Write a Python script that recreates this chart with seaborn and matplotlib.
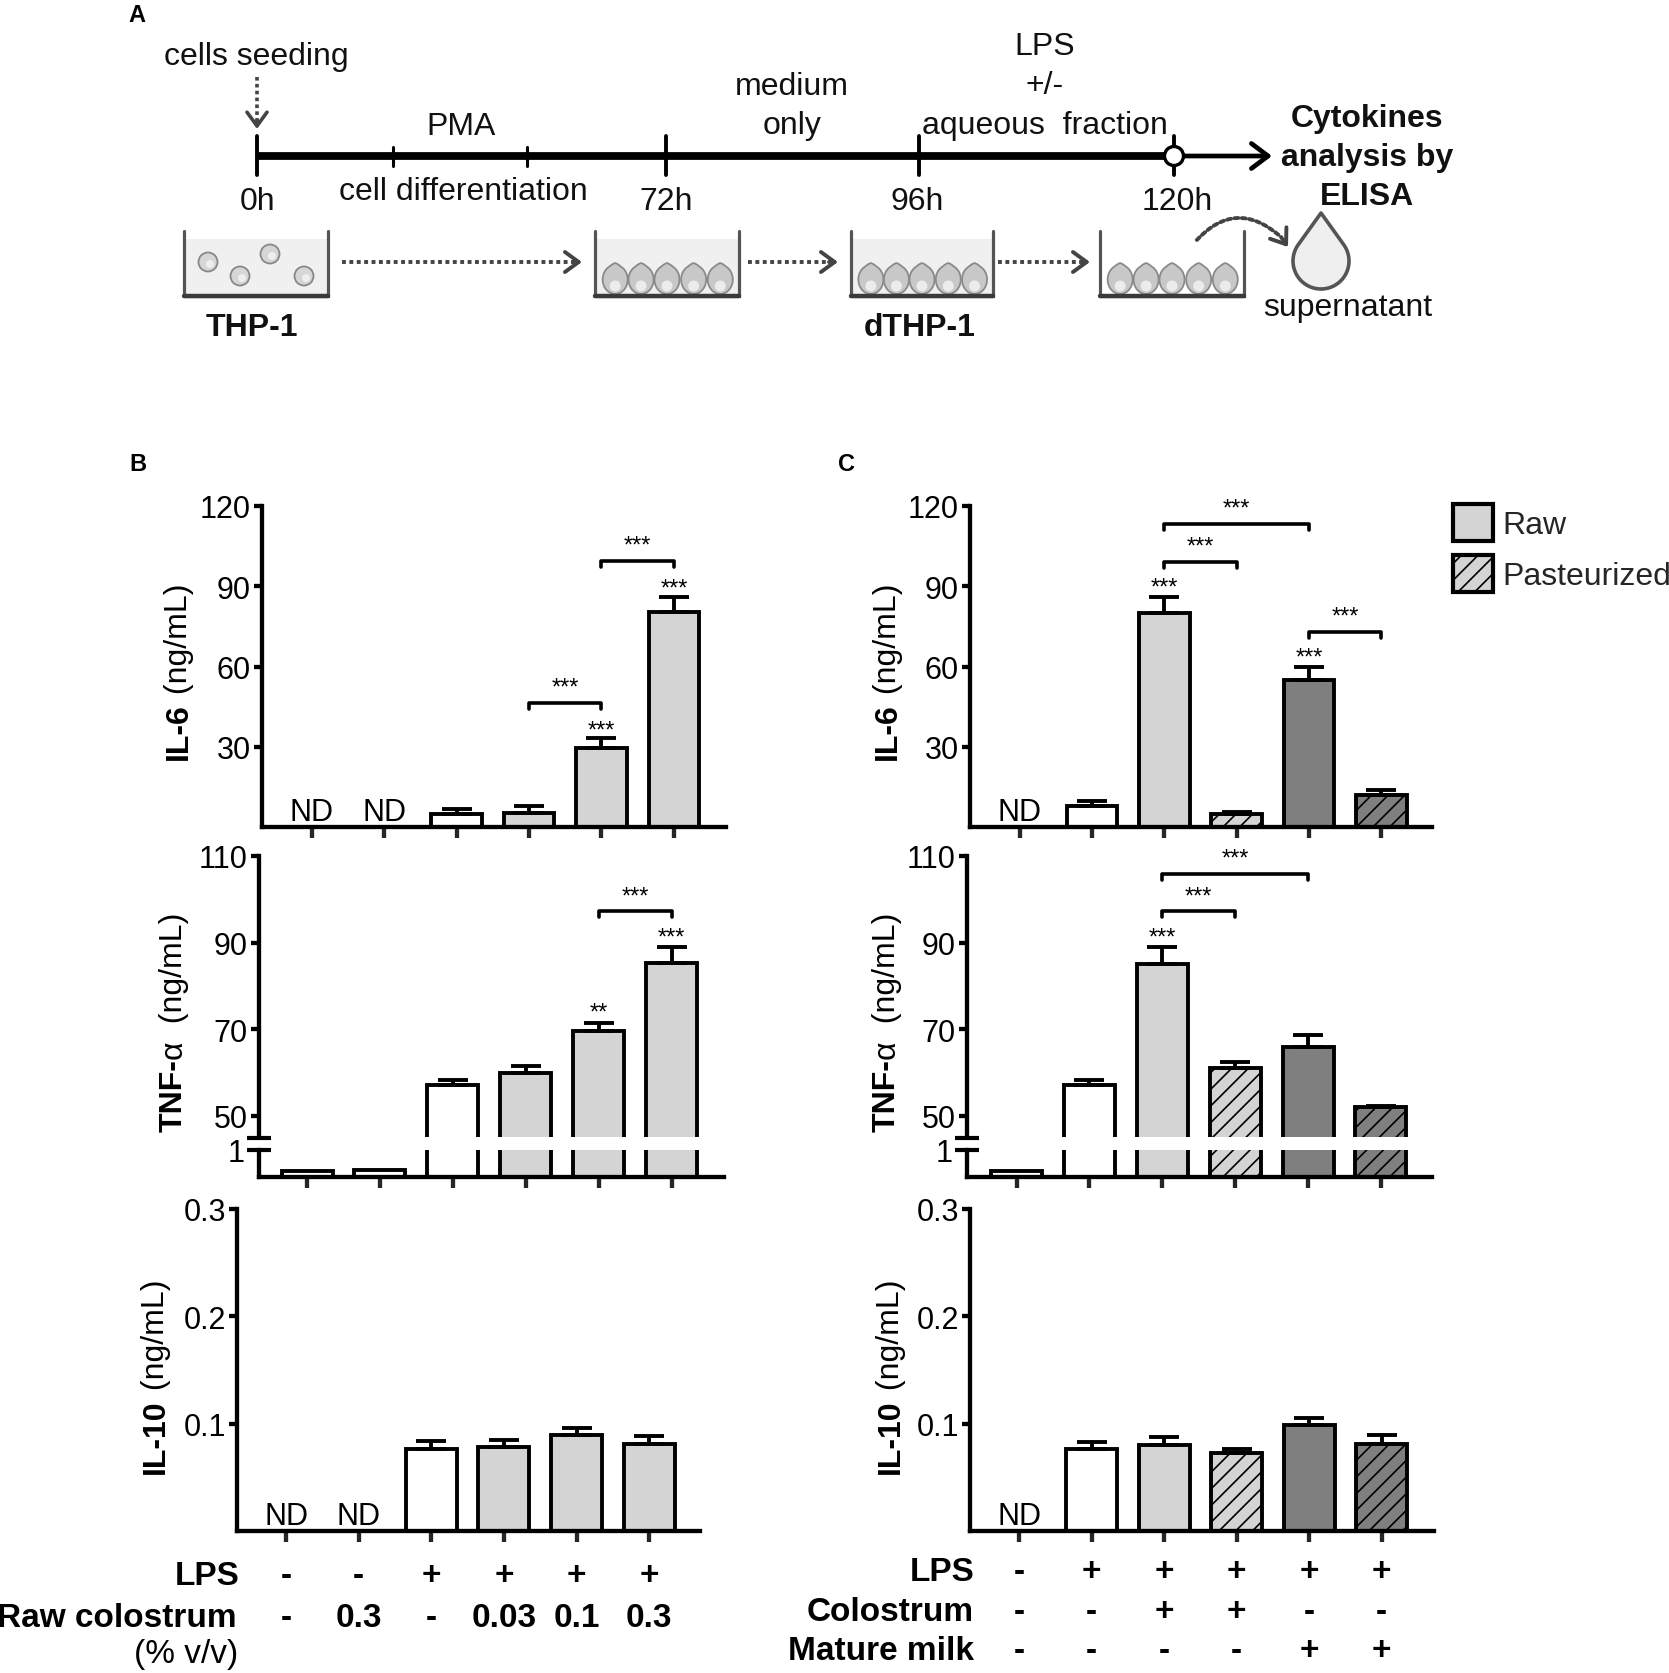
import numpy as np
import pandas as pd
import matplotlib
matplotlib.use("Agg")
import matplotlib.pyplot as plt
import seaborn as sns
from matplotlib import transforms
from matplotlib.patches import Rectangle, Circle, Polygon, FancyArrowPatch, Patch

# ---------------- data ----------------
b_groups = ["ctrl", "colo0.3", "LPS", "LPS+0.03", "LPS+0.1", "LPS+0.3"]
b_il6 = [0.0, 0.0, 5.0, 5.2, 29.6, 80.5]
b_il6_err = [0.0, 0.0, 1.8, 2.5, 3.6, 5.5]
b_tnf = [0.22, 0.26, 57.1, 60.0, 69.5, 85.2]
b_tnf_err = [0.0, 0.0, 1.1, 1.6, 1.9, 3.7]
b_il10 = [0.0, 0.0, 0.0766, 0.0780, 0.0890, 0.0806]
b_il10_err = [0.0, 0.0, 0.0071, 0.0067, 0.0070, 0.0078]
b_il6_nd = [0, 1]
b_il10_nd = [0, 1]
b_lps_row = ["-", "-", "+", "+", "+", "+"]
b_colostrum_row = ["-", "0.3", "-", "0.03", "0.1", "0.3"]
b_il6_stars = [(4, "***", 38.0), (5, "***", 91.0)]
b_il6_brackets = [(3, 4, 46.4, "***"), (4, 5, 99.5, "***")]
b_tnf_stars = [(4, "**", 75.0), (5, "***", 92.2)]
b_tnf_brackets = [(4, 5, 97.2, "***")]

c_groups = ["ctrl", "LPS", "LPS+raw colo", "LPS+past colo", "LPS+raw milk", "LPS+past milk"]
c_il6 = [0.0, 8.0, 80.0, 4.7, 54.8, 11.9]
c_il6_err = [0.0, 1.7, 6.1, 0.9, 4.9, 2.1]
c_tnf = [0.22, 57.1, 85.1, 61.1, 65.9, 52.1]
c_tnf_err = [0.0, 1.1, 3.8, 1.4, 2.8, 0.3]
c_il10 = [0.0, 0.0760, 0.0800, 0.0726, 0.0983, 0.0806]
c_il10_err = [0.0, 0.0070, 0.0080, 0.0040, 0.0067, 0.0090]
c_il6_nd = [0]
c_il10_nd = [0]
c_lps_row = ["-", "+", "+", "+", "+", "+"]
c_colostrum_row = ["-", "-", "+", "+", "-", "-"]
c_milk_row = ["-", "-", "-", "-", "+", "+"]
c_il6_stars = [(2, "***", 91.2), (4, "***", 65.0)]
c_il6_brackets = [(2, 3, 99.2, "***"), (2, 4, 113.2, "***"), (4, 5, 73.0, "***")]
c_tnf_stars = [(2, "***", 92.2)]
c_tnf_brackets = [(2, 3, 97.2, "***"), (2, 4, 105.9, "***")]

legend_labels = ["Raw", "Pasteurized"]
il6_ticks = [30, 60, 90, 120]
tnf_ticks = [50, 70, 90, 110]
il10_ticks = [0.1, 0.2, 0.3]
timeline_labels = ["0h", "72h", "96h", "120h"]

# ---------------- style ----------------
sns.set_theme(style="ticks")
plt.rcParams["font.family"] = ["Liberation Sans", "DejaVu Sans"]
plt.rcParams["hatch.linewidth"] = 1.2
plt.rcParams["hatch.color"] = "#222222"

WHITE, LIGHT, DARK = "#ffffff", "#d4d4d4", "#7f7f7f"
b_colors = [WHITE, WHITE, WHITE, LIGHT, LIGHT, LIGHT]
b_hatches = [None] * 6
c_colors = [WHITE, WHITE, LIGHT, LIGHT, DARK, DARK]
c_hatches = [None, None, None, "//", None, "//"]

BAR_LW = 2.8
SPINE_LW = 3.1
TICK_FS = 22
LAB_FS = 24
YL_FS = 23
STAR_FS = 17
A_FS = 23

W, H = 1669, 1674
fig = plt.figure(figsize=(W / 100, H / 100), dpi=100)

ov = fig.add_axes([0, 0, 1, 1], zorder=10)
ov.set_xlim(0, W)
ov.set_ylim(H, 0)
ov.axis("off")
ov.patch.set_visible(False)


def place(left, top, right, bottom):
    return fig.add_axes([left / W, 1 - bottom / H, (right - left) / W, (bottom - top) / H])


def style_ax(ax, bottom=True):
    sns.despine(ax=ax)
    for s in ["left", "bottom"]:
        ax.spines[s].set_linewidth(SPINE_LW)
        ax.spines[s].set_color("black")
    ax.tick_params(axis="y", length=6, width=SPINE_LW, labelsize=TICK_FS, pad=2, colors="black")
    ax.tick_params(axis="x", length=8, width=SPINE_LW, labelbottom=False)
    ax.set_xticks(range(6))
    if not bottom:
        ax.spines["bottom"].set_visible(False)
        ax.tick_params(axis="x", length=0)
    ax.set_xlabel("")
    ax.set_ylabel("")
    ax.set_facecolor("none")


def draw_bars(ax, groups, vals, errs, colors, hatches, xlim, ylim):
    df = pd.DataFrame({"group": groups, "value": vals})
    sns.barplot(data=df, x="group", y="value", hue="group", order=groups, hue_order=groups,
                palette=dict(zip(groups, colors)), saturation=1, width=0.7, errorbar=None,
                edgecolor="black", linewidth=BAR_LW, legend=False, ax=ax)
    for p, h in zip(ax.patches, hatches):
        if h:
            p.set_hatch(h)
    idx = [i for i, e in enumerate(errs) if e > 0]
    if idx:
        ax.errorbar(idx, [vals[i] for i in idx],
                    yerr=[[0] * len(idx), [errs[i] for i in idx]],
                    fmt="none", ecolor="black", elinewidth=BAR_LW, capsize=11,
                    capthick=BAR_LW, zorder=3, clip_on=False)
    ax.set_xlim(*xlim)
    ax.set_ylim(*ylim)


def nd(ax, idxs):
    for i in idxs:
        ax.annotate("ND", xy=(i, 0), xytext=(0, 5), textcoords="offset points",
                    ha="center", va="baseline", fontsize=22, color="black")


def stars(ax, items):
    for i, s, y in items:
        ax.annotate(s, xy=(i, y), xytext=(0, -3.5), textcoords="offset points",
                    ha="center", va="center", fontsize=STAR_FS, color="black",
                    annotation_clip=False)


def brackets(ax, items, drop_px=6):
    y0, y1 = ax.get_ylim()
    hpx = ax.get_window_extent().height
    drop = drop_px * (y1 - y0) / hpx
    for a, b, y, s in items:
        ax.plot([a, a, b, b], [y - drop, y, y, y - drop], color="black", lw=2.6,
                solid_joinstyle="round", solid_capstyle="round", clip_on=False)
        ax.annotate(s, xy=((a + b) / 2, y), xytext=(0, 11), textcoords="offset points",
                    ha="center", va="center", fontsize=STAR_FS, color="black",
                    annotation_clip=False)


def ylab(x, ybottom, parts, fs=YL_FS):
    prev = None
    for s, wgt in parts:
        if prev is None:
            prev = ov.text(x, ybottom, s, rotation=90, rotation_mode="anchor", ha="left",
                           va="baseline", fontsize=fs, fontweight=wgt, color="black")
        else:
            prev = ov.annotate(s, xy=(x, 1.0), xycoords=(ov.transData, prev), rotation=90,
                               rotation_mode="anchor", ha="left", va="baseline",
                               fontsize=fs, fontweight=wgt, color="black")


def break_marks(xs, ys):
    for x in xs:
        for y in ys:
            ov.plot([x - 12, x + 12], [y, y], color="black", lw=3.0, solid_capstyle="butt")


def tnf_panel(left, right, xlim, groups, vals, errs, colors, hatches, st, br):
    up = place(left, 857, right, 1138)
    lo = place(left, 1151, right, 1178)
    draw_bars(up, groups, vals, errs, colors, hatches, xlim, (45.15, 110))
    draw_bars(lo, groups, vals, [0] * 6, colors, hatches, xlim, (0, 1))
    style_ax(up, bottom=False)
    style_ax(lo)
    up.set_yticks(tnf_ticks)
    lo.set_yticks([1])
    lo.tick_params(axis="y", length=0, pad=10)
    stars(up, st)
    brackets(up, br)
    break_marks([left], [1139, 1151])
    return up, lo


# ---------------- panel B ----------------
ax = place(262, 507, 726, 828)
draw_bars(ax, b_groups, b_il6, b_il6_err, b_colors, b_hatches, (-0.69, 5.72), (0, 120))
style_ax(ax)
ax.set_yticks(il6_ticks)
nd(ax, b_il6_nd)
stars(ax, b_il6_stars)
brackets(ax, b_il6_brackets)

tnf_panel(259, 724, (-0.66, 5.72), b_groups, b_tnf, b_tnf_err, b_colors, b_hatches,
          b_tnf_stars, b_tnf_brackets)

axb10 = place(237, 1210, 700, 1532)
draw_bars(axb10, b_groups, b_il10, b_il10_err, b_colors, b_hatches, (-0.675, 5.70), (0, 0.3))
style_ax(axb10)
axb10.set_yticks(il10_ticks)
axb10.set_yticklabels(["0.1", "0.2", "0.3"])
nd(axb10, b_il10_nd)

# ---------------- panel C ----------------
axc6 = place(970, 507, 1432, 828)
draw_bars(axc6, c_groups, c_il6, c_il6_err, c_colors, c_hatches, (-0.69, 5.70), (0, 120))
style_ax(axc6)
axc6.set_yticks(il6_ticks)
nd(axc6, c_il6_nd)
stars(axc6, c_il6_stars)
brackets(axc6, c_il6_brackets)

tnf_panel(967, 1432, (-0.68, 5.70), c_groups, c_tnf, c_tnf_err, c_colors, c_hatches,
          c_tnf_stars, c_tnf_brackets)

axc10 = place(970, 1210, 1434, 1532)
draw_bars(axc10, c_groups, c_il10, c_il10_err, c_colors, c_hatches, (-0.68, 5.72), (0, 0.3))
style_ax(axc10)
axc10.set_yticks(il10_ticks)
axc10.set_yticklabels(["0.1", "0.2", "0.3"])
nd(axc10, c_il10_nd)

# legend
handles = [Patch(facecolor=LIGHT, edgecolor="black", linewidth=3.0, label=legend_labels[0]),
           Patch(facecolor=LIGHT, edgecolor="black", linewidth=3.0, hatch="//", label=legend_labels[1])]
fig.legend(handles=handles, loc="upper left", bbox_to_anchor=(1453 / W, 1 - 505 / H),
           frameon=False, fontsize=23, handlelength=1.25, handleheight=1.4,
           handletextpad=0.3, labelspacing=0.45, borderpad=0, borderaxespad=0)

# y labels
ylab(187, 760, [("IL-6", "bold"), (" (ng/mL)", "normal")])
ylab(182, 1132, [("TNF-", "bold"), ("α", "normal"), ("  (ng/mL)", "normal")])
ylab(164, 1474, [("IL-10", "bold"), (" (ng/mL)", "normal")])
ylab(896, 760, [("IL-6", "bold"), (" (ng/mL)", "normal")])
ylab(895, 1132, [("TNF-", "bold"), ("α", "normal"), ("  (ng/mL)", "normal")])
ylab(899, 1474, [("IL-10", "bold"), (" (ng/mL)", "normal")])


# condition rows
def row(ax, y, label, vals, label_x, weight="bold"):
    tr = transforms.blended_transform_factory(ax.transData, ov.transData)
    for i, v in enumerate(vals):
        ov.text(i, y, v, transform=tr, ha="center", va="center", fontsize=LAB_FS,
                fontweight="bold", color="black")
    if label:
        ov.text(label_x, y, label, ha="right", va="center", fontsize=LAB_FS,
                fontweight=weight, color="black")


row(axb10, 1577, "LPS", b_lps_row, 239)
row(axb10, 1619, "Raw colostrum", b_colostrum_row, 237)
ov.text(238, 1655, "(% v/v)", ha="right", va="center", fontsize=LAB_FS, color="black")
row(axc10, 1573, "LPS", c_lps_row, 974)
row(axc10, 1613, "Colostrum", c_colostrum_row, 974)
row(axc10, 1652, "Mature milk", c_milk_row, 974)

# panel letters
for s, x, y in [("A", 137, 15), ("B", 138, 464), ("C", 846, 464)]:
    ov.text(x, y, s, ha="center", va="center", fontsize=17, fontweight="bold", color="black")

# ---------------- panel A schematic ----------------
INK = "#111111"
GL = "#444444"


def T(x, y, s, size=A_FS, weight="normal"):
    ov.text(x, y, s, ha="center", va="center", fontsize=size, fontweight=weight, color=INK)


ov.plot([257, 1174], [157, 157], color="black", lw=5.6, solid_capstyle="butt")
ov.annotate("", xy=(1272, 157), xytext=(1176, 157),
            arrowprops=dict(arrowstyle="->,head_length=0.6,head_width=0.45", lw=3.4,
                            color="black", shrinkA=0, shrinkB=0, mutation_scale=20))
tl_x = [257, 666, 919, 1174]
for x in tl_x:
    ov.plot([x, x], [137, 176], color="black", lw=2.8)
for x in [393, 527]:
    ov.plot([x, x], [148, 167], color="black", lw=2.2)
ov.add_patch(Circle((1174, 157), 9.5, facecolor="white", edgecolor="black", lw=2.4, zorder=5))

for s, x in zip(timeline_labels, [258, 666, 917, 1177]):
    T(x, 202, s)
T(256, 57, "cells seeding")
T(461, 127, "PMA")
T(463, 192, "cell differentiation")
T(792, 87, "medium")
T(792, 126, "only")
T(1045, 47, "LPS")
T(1045, 86, "+/-")
T(1045, 126, "aqueous  fraction")
T(1367, 119, "Cytokines", weight="bold")
T(1367, 158, "analysis by", weight="bold")
T(1367, 197, "ELISA", weight="bold")
T(252, 328, "THP-1", weight="bold")
T(920, 328, "dTHP-1", weight="bold")
T(1348, 308, "supernatant")

DOT = (0, (1.0, 0.9))


def head(tip, frm, lw=2.6):
    ov.annotate("", xy=tip, xytext=frm,
                arrowprops=dict(arrowstyle="->,head_length=0.55,head_width=0.4", lw=lw,
                                color=GL, shrinkA=0, shrinkB=0, mutation_scale=18))


# cells seeding arrow
ov.plot([257, 257], [78, 124], color=GL, lw=2.6, linestyle=DOT)
head((257, 130), (257, 121))


def cell_shape(cx, base, w=25, h=29):
    # rounded cell body with a small bump on top
    t = np.linspace(0, 2 * np.pi, 80)
    xs = cx + (w / 2) * np.sin(t)
    ys = base - h / 2 + (h / 2) * np.cos(t)
    bump = 2.0 * np.clip(1 - np.abs(np.sin(t)) * 2.2, 0, 1) * (np.cos(t) < 0)
    ys = ys - bump
    return list(zip(xs, ys))


# wells
wells = [(184, 328, True), (595, 739, True), (851, 993, True), (1100, 1244, False)]
WT, WB = 232, 297
for k, (l, r, med) in enumerate(wells):
    if med:
        ov.add_patch(Rectangle((l, 240), r - l, WB - 240, facecolor="#f0f0f0", edgecolor="none"))
    ov.plot([l, l, r, r], [WT, WB, WB, WT], color="#555555", lw=2.3, solid_joinstyle="miter")
    ov.plot([l, r], [WB, WB], color="#3a3a3a", lw=3.2)
    if k == 0:
        for cx, cy in [(208, 263), (240, 277), (270, 255), (304, 277)]:
            ov.add_patch(Circle((cx, cy), 9.5, facecolor="#d6d6d6", edgecolor="#888888", lw=1.3))
            ov.add_patch(Circle((cx + 2, cy + 2), 4, facecolor="#eeeeee", edgecolor="none"))
    else:
        w = r - l
        for f in [0.14, 0.32, 0.50, 0.685, 0.87]:
            cx = l + f * w
            ov.add_patch(Polygon(cell_shape(cx, 295), closed=True, facecolor="#c8c8c8",
                                 edgecolor="#8a8a8a", lw=1.3))
            ov.add_patch(Circle((cx, 287), 5.5, facecolor="#ececec", edgecolor="none"))

# dotted arrows between wells
for x0, x1 in [(342, 582), (748, 838), (998, 1090)]:
    ov.plot([x0, x1 - 6], [263, 263], color=GL, lw=2.8, linestyle=DOT)
    head((x1, 263), (x1 - 9, 263), lw=2.8)

# curved arrow to droplet
ov.add_patch(FancyArrowPatch((1195, 243), (1281, 238), connectionstyle="arc3,rad=-0.5",
                             arrowstyle="-", linestyle=DOT, lw=2.8, color=GL))
head((1288, 248), (1281, 238), lw=2.8)

# droplet
cx, cy, rr, tip = 1321, 262, 28, 214
d = cy - tip
th = np.arccos(rr / d)
ang = np.linspace(np.pi / 2 + th, 5 * np.pi / 2 - th, 80)
pts = [(cx, tip)] + [(cx + rr * np.cos(a), cy - rr * np.sin(a)) for a in ang]
ov.add_patch(Polygon(pts, closed=True, facecolor="#efefef", edgecolor="#555555", lw=2.6,
                     joinstyle="round"))

fig.savefig("out.png", dpi=100)
